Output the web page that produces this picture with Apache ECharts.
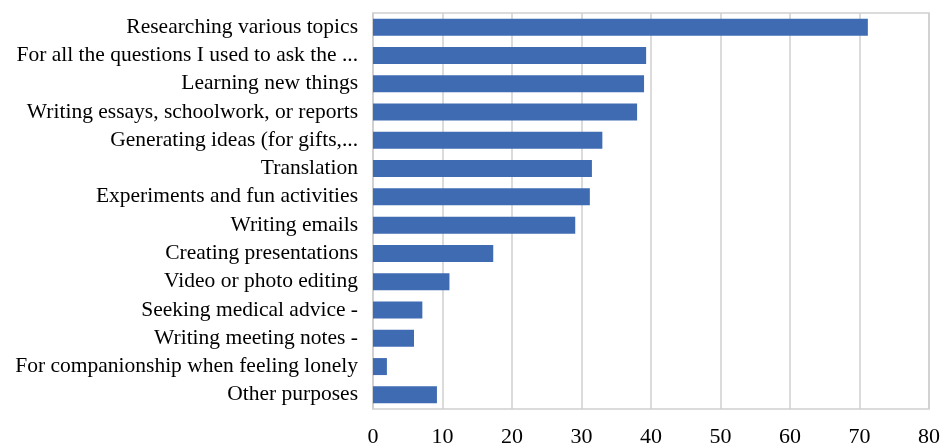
<!DOCTYPE html>
<html><head><meta charset="utf-8">
<script src="https://cdn.jsdelivr.net/npm/echarts@6/dist/echarts.min.js"></script>
<style>html,body{margin:0;padding:0;background:#fff}#c{width:943px;height:448px}</style>
</head><body><div id="c"></div>
<script>
const categories = [
  "Researching various topics",
  "For all the questions I used to ask the ...",
  "Learning new things",
  "Writing essays, schoolwork, or reports",
  "Generating ideas (for gifts,...",
  "Translation",
  "Experiments and fun activities",
  "Writing emails",
  "Creating presentations",
  "Video or photo editing",
  "Seeking medical advice -",
  "Writing meeting notes -",
  "For companionship when feeling lonely",
  "Other purposes"
];
const values = [71.2, 39.3, 39.0, 38.0, 33.0, 31.5, 31.2, 29.1, 17.3, 11.0, 7.1, 5.9, 2.0, 9.2];
const xTicks = [0, 10, 20, 30, 40, 50, 60, 70, 80];

const chart = echarts.init(document.getElementById('c'));
const font = '"Liberation Serif", "DejaVu Serif", serif';
chart.setOption({
  animation: false,
  grid: { left: 373, right: 13, top: 13, bottom: 39, show: true, borderColor: '#cfcfcf', borderWidth: 1.5, containLabel: false },
  xAxis: {
    type: 'value', min: xTicks[0], max: xTicks[xTicks.length - 1], interval: 10,
    axisLine: { show: false }, axisTick: { show: false },
    splitLine: { show: true, lineStyle: { color: '#cfcfcf', width: 1.5 } },
    axisLabel: { color: '#000', fontFamily: font, fontSize: 22, margin: 17 }
  },
  yAxis: {
    type: 'category', data: categories, inverse: true,
    axisLine: { show: true, lineStyle: { color: '#cfcfcf', width: 1.5 } },
    axisTick: { show: false },
    axisLabel: { color: '#000', fontFamily: font, fontSize: 21.5, lineHeight: 22, margin: 15, interval: 0, padding: [0, 0, 5, 0] }
  },
  series: [{
    type: 'bar', data: values, barWidth: 17,
    itemStyle: { color: '#3f6bb3' }
  }]
});
</script></body></html>
